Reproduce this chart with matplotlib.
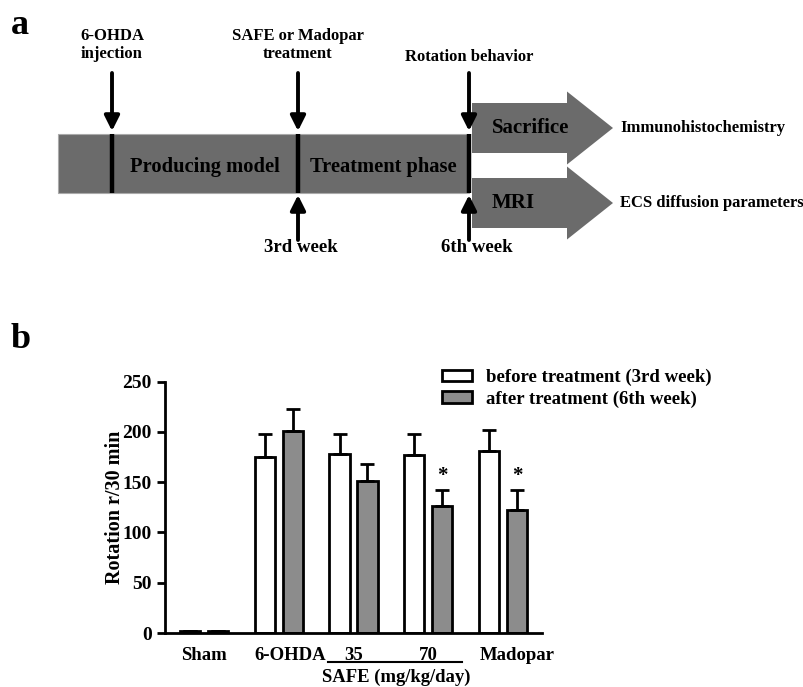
import numpy as np
from matplotlib import pyplot as plt
from matplotlib.patches import Rectangle, FancyArrow
from matplotlib.transforms import ScaledTranslation

plt.rcParams['font.family'] = ['Liberation Serif', 'DejaVu Serif']
plt.rcParams['font.weight'] = 'bold'
plt.rcParams['axes.labelweight'] = 'bold'

# ---- panel b data ----
groups = ["Sham", "6-OHDA", "35", "70", "Madopar"]
before = [1.5, 175, 178, 177, 181]
before_err = [0, 23, 20, 21, 21]
after = [1.5, 201, 151, 126, 122]
after_err = [0, 22, 17, 16, 20]
signif = [False, False, False, True, True]
yticks = [0, 50, 100, 150, 200, 250]

# ---- panel a layout (pixel space) ----
event_x = [112, 298, 469]
top_labels = ["6-OHDA\ninjection", "SAFE or Madopar\ntreatment", "Rotation behavior"]
week_labels = {298: "3rd week", 469: "6th week"}
phase_labels = [("Producing model", 205), ("Treatment phase", 383)]
outcomes = [("Sacrifice", "Immunohistochemistry", 128), ("MRI", "ECS diffusion parameters", 203)]

W, H = 804, 687
fig = plt.figure(figsize=[W / 100, H / 100], dpi=100)

# panel a: a full-figure axes in pixel coordinates
ax0 = fig.add_axes([0, 0, 1, 1])
ax0.set_xlim(0, W)
ax0.set_ylim(H, 0)
ax0.axis('off')

dark = '#6b6b6b'
ax0.add_patch(Rectangle((58, 134), event_x[-1] - 58, 59, fc=dark, ec='#aaaaaa', lw=0.8))
for x in event_x:
    ax0.plot([x, x], [134, 193], color='k', lw=3.2, solid_capstyle='butt')

for x, lab in zip(event_x, top_labels):
    ax0.annotate('', xy=(x, 131), xytext=(x, 73),
                 arrowprops=dict(arrowstyle='-|>,head_width=0.45,head_length=0.9', lw=2.8, color='k',
                                 shrinkA=0, shrinkB=0))
    ax0.text(x, 45 if '\n' in lab else 57, lab, ha='center', va='center', fontsize=12,
             linespacing=1.2)

for x, lab in week_labels.items():
    ax0.annotate('', xy=(x, 195), xytext=(x, 240),
                 arrowprops=dict(arrowstyle='-|>,head_width=0.45,head_length=0.9', lw=2.8, color='k',
                                 shrinkA=0, shrinkB=0))
    ax0.text(x + (8 if x > 400 else 3), 248, lab, ha='center', va='center', fontsize=13.5)

for lab, x in phase_labels:
    ax0.text(x, 167, lab, ha='center', va='center', fontsize=14.8)

for name, result, yc in outcomes:
    ax0.add_patch(FancyArrow(472, yc, 141, 0, width=50, head_width=73, head_length=46,
                             length_includes_head=True, fc=dark, ec='none'))
    ax0.text(492, yc, name, ha='left', va='center', fontsize=15)
    ax0.text(620, yc, result, ha='left', va='center', fontsize=12)

ax0.text(11, 25, 'a', fontsize=26, va='center', ha='left')
ax0.text(11, 339, 'b', fontsize=26, va='center', ha='left')

# panel b: bar chart
y0, y250 = 633, 381.7
ax = fig.add_axes([165 / W, (H - y0) / H, (542 - 165) / W, (y0 - y250) / H])
pos = np.arange(len(groups))
w = 0.27
off = 0.187
ax.bar(pos - off, before, w, color='white', edgecolor='k', lw=2,
       yerr=[np.zeros(len(groups)), before_err], capsize=4.7,
       error_kw=dict(lw=2, capthick=2), label='before treatment (3rd week)')
ax.bar(pos + off, after, w, color='#8c8c8c', edgecolor='k', lw=2,
       yerr=[np.zeros(len(groups)), after_err], capsize=4.7,
       error_kw=dict(lw=2, capthick=2), label='after treatment (6th week)')
for p, a, e, s in zip(pos, after, after_err, signif):
    if s:
        ax.text(p + off, a + e + 4, '*', ha='center', va='bottom', fontsize=15)

ax.set_xlim(-0.52, 4.52)
ax.set_ylim(0, 250)
ax.set_yticks(yticks)
ax.tick_params(axis='y', labelsize=14, width=2, length=6)
ax.tick_params(axis='x', length=0, labelsize=13.5, pad=10)
ax.set_xticks(pos)
ax.set_xticklabels(groups)
# the reference sets a few group labels slightly right of the group centre
label_shift = [0, 0.11, 0, 0, 0.14]
for t, s in zip(ax.get_xticklabels(), label_shift):
    t.set_transform(t.get_transform() + ScaledTranslation(s, 0, fig.dpi_scale_trans))
for sp in ['top', 'right']:
    ax.spines[sp].set_visible(False)
for sp in ['left', 'bottom']:
    ax.spines[sp].set_linewidth(2)
ax.set_ylabel('Rotation r/30 min', fontsize=14.5, labelpad=-2)

# SAFE group bracket
ax.plot([1.66, 3.45], [-0.116, -0.116], color='k', lw=1.5, transform=ax.get_xaxis_transform(),
        clip_on=False)
ax.text(2.57, -0.175, 'SAFE (mg/kg/day)', ha='center', va='center', fontsize=13.4,
        transform=ax.get_xaxis_transform())

ax.legend(loc='upper left', bbox_to_anchor=(0.735, 1.052), frameon=False, fontsize=13.5,
          handlelength=1.6, handleheight=0.55, handletextpad=0.75, labelspacing=0.23,
          borderaxespad=0, borderpad=0)

fig.savefig('out.png', dpi=100)
